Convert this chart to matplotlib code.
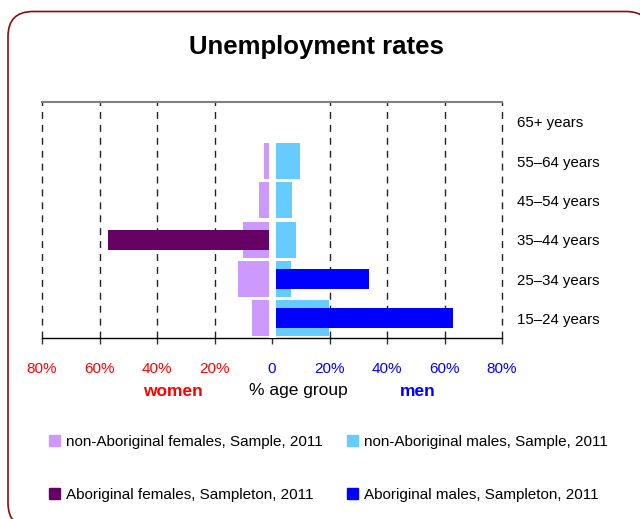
import numpy as np
import matplotlib.pyplot as plt
from matplotlib.patches import FancyBboxPatch, Patch
from matplotlib.transforms import IdentityTransform

plt.rcParams['font.family'] = ['Liberation Sans', 'DejaVu Sans']

# unemployment rates (%) by age group, bottom to top
age_groups = ['15–24 years', '25–34 years', '35–44 years',
              '45–54 years', '55–64 years', '65+ years']
nonab_female = [7.1, 11.9, 10.2, 4.6, 2.9, 0]
ab_female = [0, 0, 57.2, 0, 0, 0]
nonab_male = [19.7, 6.5, 8.3, 6.9, 9.6, 0]
ab_male = [62.9, 33.7, 0, 0, 0, 0]

x_ticks = [-80, -60, -40, -20, 0, 20, 40, 60, 80]
x_ticklabels = ['80%', '60%', '40%', '20%', '0', '20%', '40%', '60%', '80%']

c_nonab_f = '#CC99FF'
c_ab_f = '#660066'
c_nonab_m = '#66CCFF'
c_ab_m = '#0000FF'

fig = plt.figure(figsize=(6.4, 5.19), dpi=100)
ax = fig.add_axes([42/640, 181/519, 460/640, 236/519])

y = np.arange(len(age_groups))
ax.barh(y, -np.array(nonab_female), height=0.91, color=c_nonab_f, zorder=2)
ax.barh(y, nonab_male, height=0.91, color=c_nonab_m, zorder=2)
ax.barh(y, -np.array(ab_female), height=0.51, color=c_ab_f, zorder=2.2)
ax.barh(y, ab_male, height=0.51, color=c_ab_m, zorder=2.2)

# white strip separating the two sides
ax.axvspan(-1.2, 1.3, ymin=-0.02, ymax=0.99, color='white', zorder=3, lw=0)

ax.set_xlim(-80, 80)
ax.set_ylim(-0.5, len(age_groups) - 0.5)

ax.set_xticks(x_ticks)
ax.set_xticklabels(x_ticklabels, fontsize=11)
for lbl, v in zip(ax.get_xticklabels(), x_ticks):
    lbl.set_color('#FF0000' if v < 0 else '#0000FF')
ax.tick_params(axis='x', length=4, width=1, pad=13.5, color='#333333')

ax.yaxis.tick_right()
ax.set_yticks(y)
ax.set_yticklabels(age_groups, fontsize=10.8)
ax.tick_params(axis='y', length=0, pad=11)

for v in x_ticks:
    if v != 0:
        ax.axvline(v, color='#222222', lw=1, linestyle=(0, (5, 4.3)), zorder=1, clip_on=False)

ax.spines['left'].set_visible(False)
ax.spines['right'].set_visible(False)
ax.spines['top'].set_color('#808080')
ax.spines['top'].set_linewidth(1.5)
ax.spines['bottom'].set_color('black')
ax.spines['bottom'].set_linewidth(1)

fig.text(316/640, 1 - 47/519, 'Unemployment rates', fontsize=18.5, fontweight='bold',
         ha='center', va='center')

fig.text(173/640, 1 - 391/519, 'women', fontsize=12.5, fontweight='bold', color='#FF0000',
         ha='center', va='center')
fig.text(298/640, 1 - 391/519, '% age group', fontsize=12.5, color='black',
         ha='center', va='center')
fig.text(418/640, 1 - 391/519, 'men', fontsize=12.5, fontweight='bold', color='#0000FF',
         ha='center', va='center')

handles = [Patch(color=c_nonab_f), Patch(color=c_ab_f),
           Patch(color=c_nonab_m), Patch(color=c_ab_m)]
labels = ['non-Aboriginal females, Sample, 2011', 'Aboriginal females, Sampleton, 2011',
          'non-Aboriginal males, Sample, 2011', 'Aboriginal males, Sampleton, 2011']
fig.legend(handles, labels, ncol=2, loc='upper left', bbox_to_anchor=(49/640, 1 - 435/519),
           frameon=False, fontsize=11, handlelength=0.75, handleheight=0.75,
           handletextpad=0.35, labelspacing=2.55, columnspacing=1.6,
           borderpad=0, borderaxespad=0)

# rounded frame around the whole figure (pixel coordinates, origin bottom-left);
# filled white and kept behind the axes so agg draws the off-canvas corners cleanly
frame = FancyBboxPatch((8, -9), 643, 516.5, boxstyle='round,pad=0,rounding_size=25',
                       transform=IdentityTransform(), facecolor='white', edgecolor='#8B0A0A',
                       lw=1.2, clip_on=False, zorder=-5)
fig.patches.append(frame)

fig.savefig('out.png', dpi=100)
